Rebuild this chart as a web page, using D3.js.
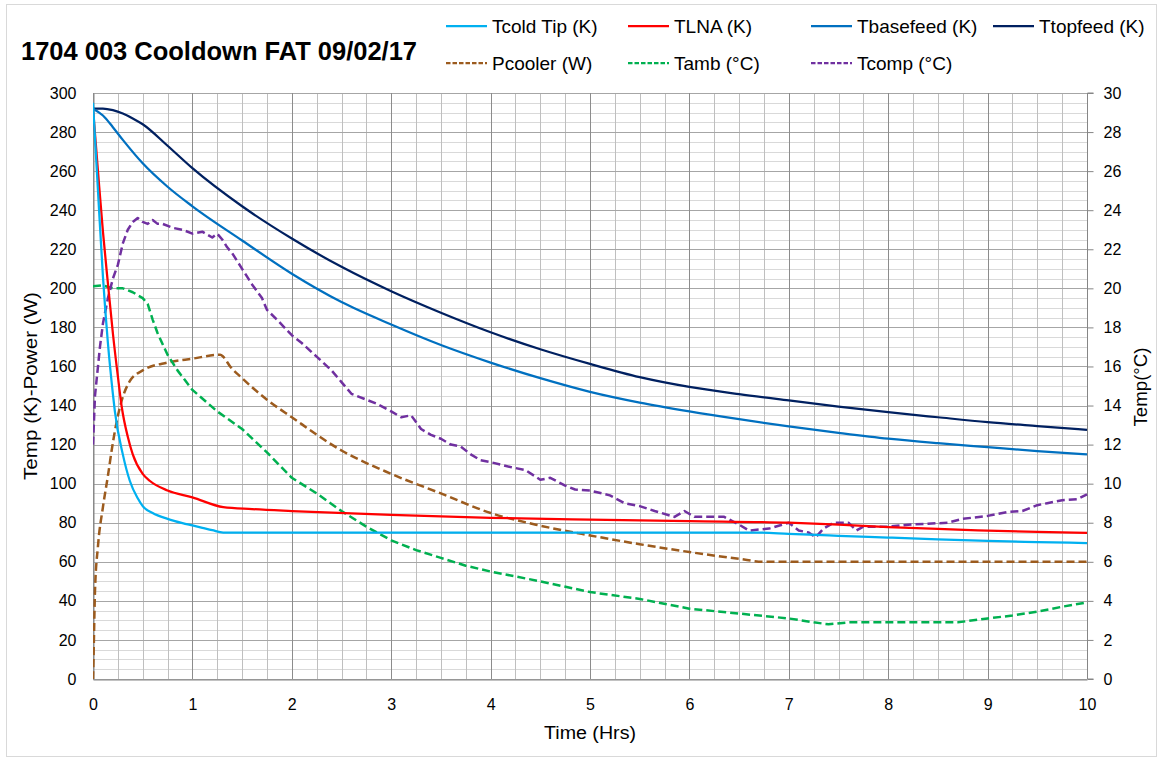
<!DOCTYPE html>
<html>
<head>
<meta charset="utf-8">
<script src="https://cdn.jsdelivr.net/npm/d3@7"></script>
<style>
  body { margin: 0; background: #fff; }
  svg { display: block; font-family: "Liberation Sans", Arial, sans-serif; }
</style>
</head>
<body>
<svg id="chart" width="1158" height="758"></svg>
<script>
// ---------- DATA ----------
const chartTitle = "1704 003 Cooldown FAT 09/02/17";
const xTickLabels = [0, 1, 2, 3, 4, 5, 6, 7, 8, 9, 10];
const leftTicks = [0, 20, 40, 60, 80, 100, 120, 140, 160, 180, 200, 220, 240, 260, 280, 300];
const rightTicks = [0, 2, 4, 6, 8, 10, 12, 14, 16, 18, 20, 22, 24, 26, 28, 30];

const seriesNames = ["Tcold Tip (K)", "TLNA (K)", "Tbasefeed (K)", "Ttopfeed (K)", "Pcooler (W)", "Tamb (°C)", "Tcomp (°C)"];

const tcoldT = [0, 0.05, 0.1, 0.15, 0.2, 0.22, 0.3, 0.37, 0.45, 0.5, 0.6, 0.75, 0.9, 1.0, 1.1, 1.2, 1.31, 2, 3, 4, 5, 6, 6.7, 7, 7.5, 8, 8.5, 9, 9.5, 10];
const tcoldV = [295, 250, 206, 172, 146, 137, 115, 101.5, 92.5, 88.5, 85, 82, 79.8, 78.6, 77.4, 76.2, 75, 75, 75, 75, 75, 75, 75, 74.3, 73.3, 72.4, 71.5, 70.7, 70.1, 69.6];

const tlnaT = [0, 0.05, 0.1, 0.155, 0.2, 0.25, 0.29, 0.35, 0.4, 0.5, 0.57, 0.75, 1.0, 1.31, 1.6, 2, 3, 4, 5, 6, 7, 7.5, 8, 8.5, 9, 9.5, 10];
const tlnaV = [292, 260, 229, 200, 177, 155, 139, 124, 115, 105, 101.5, 96.5, 93, 88, 87, 86, 84, 82.5, 81.6, 80.8, 80, 79, 77.8, 76.8, 76, 75.3, 74.8];

const tbaseT = [0, 0.1, 0.2, 0.3, 0.5, 0.75, 1, 1.5, 2, 2.5, 3, 3.5, 4, 4.5, 5, 5.5, 6, 6.5, 7, 7.5, 8, 8.5, 9, 9.5, 10];
const tbaseV = [292, 288.5, 282.5, 276, 264, 252, 242, 224.5, 207.5, 193, 181.5, 171, 162, 154, 147, 141.5, 137, 133, 129.3, 126, 123, 120.7, 118.7, 116.7, 115];

const ttopT = [0, 0.1, 0.2, 0.3, 0.4, 0.5, 0.75, 1, 1.5, 2, 2.5, 3, 3.5, 4, 4.5, 5, 5.5, 6, 6.5, 7, 7.5, 8, 8.5, 9, 9.5, 10];
const ttopV = [292, 292, 291.2, 289.5, 287, 284, 273, 261.5, 242, 225.5, 211, 198.5, 187.5, 177.5, 168.8, 161.3, 154.5, 149.5, 145.8, 142.6, 139.5, 136.6, 134, 131.5, 129.5, 127.6];

const pcoolT = [0, 0.005, 0.02, 0.05, 0.1, 0.15, 0.2, 0.27, 0.37, 0.5, 0.75, 1.0, 1.28, 1.31, 1.38, 1.5, 1.75, 2, 2.5, 3, 3.5, 4, 4.5, 5, 5.5, 6, 6.5, 6.75, 7, 8, 9, 10];
const pcoolV = [0, 10, 45, 68, 88, 104, 121, 139, 152.5, 158, 162, 164, 166, 165, 160, 154, 143, 134, 117, 105, 95, 85, 78.5, 73.5, 69, 65, 61.5, 60, 60, 60, 60, 60];

const tambT = [0, 0.1, 0.2, 0.3, 0.4, 0.5, 0.55, 0.6, 0.65, 0.75, 0.85, 1.0, 1.25, 1.5, 1.75, 2.0, 2.25, 2.5, 2.75, 3.0, 3.25, 3.5, 3.75, 4.0, 4.5, 5.0, 5.5, 6.0, 6.5, 7.0, 7.25, 7.4, 7.6, 8.0, 8.5, 8.7, 9.0, 9.25, 9.5, 9.75, 10];
const tambV = [20.1, 20.15, 20.0, 20.0, 19.8, 19.5, 19.2, 18.4, 17.7, 16.6, 15.8, 14.8, 13.7, 12.8, 11.6, 10.3, 9.5, 8.6, 7.8, 7.1, 6.6, 6.2, 5.8, 5.5, 5.0, 4.45, 4.1, 3.6, 3.35, 3.1, 2.9, 2.8, 2.9, 2.9, 2.9, 2.9, 3.1, 3.25, 3.45, 3.7, 3.92];

const tcompT = [0, 0.02, 0.04, 0.07, 0.1, 0.15, 0.2, 0.25, 0.3, 0.35, 0.4, 0.45, 0.5, 0.55, 0.6, 0.65, 0.7, 0.8, 0.9, 1.0, 1.1, 1.2, 1.25, 1.3, 1.35, 1.4, 1.5, 1.6, 1.7, 1.75, 1.85, 2.0, 2.1, 2.25, 2.4, 2.5, 2.6, 2.75, 2.85, 3.0, 3.1, 3.2, 3.3, 3.4, 3.5, 3.6, 3.7, 3.8, 3.9, 4.0, 4.2, 4.35, 4.5, 4.6, 4.75, 4.85, 5.0, 5.2, 5.35, 5.5, 5.65, 5.85, 5.95, 6.05, 6.35, 6.5, 6.6, 6.8, 7.0, 7.1, 7.2, 7.27, 7.35, 7.45, 7.6, 7.68, 7.75, 8.0, 8.2, 8.4, 8.6, 8.75, 9.0, 9.2, 9.35, 9.5, 9.6, 9.75, 9.9, 10.0];
const tcompV = [12.0, 14.5, 15.5, 17.0, 18.2, 19.5, 20.5, 21.2, 22.3, 23.0, 23.4, 23.6, 23.4, 23.3, 23.5, 23.3, 23.3, 23.1, 23.0, 22.8, 22.9, 22.6, 22.8, 22.5, 22.1, 21.8, 21.0, 20.2, 19.5, 18.9, 18.4, 17.6, 17.2, 16.5, 15.8, 15.2, 14.6, 14.3, 14.1, 13.7, 13.4, 13.5, 12.8, 12.5, 12.3, 12.0, 11.9, 11.5, 11.2, 11.1, 10.85, 10.7, 10.2, 10.3, 9.9, 9.7, 9.65, 9.4, 9.0, 8.85, 8.6, 8.3, 8.6, 8.3, 8.3, 7.9, 7.6, 7.7, 8.0, 7.6, 7.5, 7.25, 7.7, 8.0, 8.0, 7.6, 7.8, 7.8, 7.9, 7.95, 8.0, 8.2, 8.35, 8.55, 8.6, 8.9, 9.0, 9.15, 9.2, 9.45];

// ---------- LAYOUT ----------
const svg = d3.select("#chart");
const X0 = 93, X1 = 1087, Y0 = 679, Y1 = 93;

const x = d3.scaleLinear().domain([0, 10]).range([X0, X1]);
const yL = d3.scaleLinear().domain([0, 300]).range([Y0, Y1]);
const yR = d3.scaleLinear().domain([0, 30]).range([Y0, Y1]);

// outer border
svg.append("rect").attr("x", 6.5).attr("y", 4.5).attr("width", 1150).attr("height", 752)
  .attr("fill", "#fff").attr("stroke", "#D9D9D9").attr("stroke-width", 1);

// title
svg.append("text").attr("x", 21).attr("y", 60)
  .attr("font-size", 25).attr("font-weight", "bold").attr("fill", "#000")
  .attr("textLength", 396).attr("lengthAdjust", "spacingAndGlyphs")
  .text(chartTitle);

// gridlines
const grid = svg.append("g");
const minorX = d3.range(0, 10.001, 0.25).filter(v => Math.abs(v - Math.round(v)) > 1e-6);
const majorX = d3.range(0, 11, 1);
const minorY = d3.range(0, 301, 5).filter(v => v % 20 !== 0);
const majorY = d3.range(0, 301, 20);

grid.selectAll(".hmin").data(minorY).join("line")
  .attr("x1", X0).attr("x2", X1)
  .attr("y1", d => Math.round(yL(d)) + 0.5).attr("y2", d => Math.round(yL(d)) + 0.5)
  .attr("stroke", "#D9D9D9").attr("stroke-width", 1);
grid.selectAll(".vmin").data(minorX).join("line")
  .attr("y1", Y1).attr("y2", Y0)
  .attr("x1", d => Math.round(x(d)) + 0.5).attr("x2", d => Math.round(x(d)) + 0.5)
  .attr("stroke", "#BFBFBF").attr("stroke-width", 1);
grid.selectAll(".hmaj").data(majorY).join("line")
  .attr("x1", X0).attr("x2", X1)
  .attr("y1", d => Math.round(yL(d)) + 0.5).attr("y2", d => Math.round(yL(d)) + 0.5)
  .attr("stroke", "#A6A6A6").attr("stroke-width", 1);
grid.selectAll(".vmaj").data(majorX).join("line")
  .attr("y1", Y1).attr("y2", Y0)
  .attr("x1", d => Math.round(x(d)) + 0.5).attr("x2", d => Math.round(x(d)) + 0.5)
  .attr("stroke", "#8C8C8C").attr("stroke-width", 1);

// axes
const axisColor = "#868686";
const gL = svg.append("g").attr("transform", `translate(${X0 + 0.5},0)`)
  .call(d3.axisLeft(yL).tickValues(leftTicks).tickSize(0).tickPadding(17));
const gR = svg.append("g").attr("transform", `translate(${X1 + 0.5},0)`)
  .call(d3.axisRight(yR).tickValues(rightTicks).tickSize(6).tickPadding(10));
const gB = svg.append("g").attr("transform", `translate(0,${Y0 + 0.5})`)
  .call(d3.axisBottom(x).tickValues(xTickLabels).tickSize(0).tickPadding(19));
[gL, gR, gB].forEach(g => {
  g.select(".domain").attr("stroke", axisColor);
  g.selectAll(".tick line").attr("stroke", axisColor);
  g.selectAll("text").attr("font-size", 16).attr("fill", "#000")
    .attr("font-family", '"Liberation Sans", Arial, sans-serif');
});
gR.select(".domain").attr("d", `M6,${Y1}H0V${Y0}H6`);

// axis titles
svg.append("text").attr("x", 590).attr("y", 739).attr("text-anchor", "middle")
  .attr("font-size", 18).attr("textLength", 92).attr("lengthAdjust", "spacingAndGlyphs")
  .text("Time (Hrs)");
svg.append("text").attr("transform", `translate(37,386) rotate(-90)`).attr("text-anchor", "middle")
  .attr("font-size", 19).attr("textLength", 188).attr("lengthAdjust", "spacingAndGlyphs")
  .text("Temp (K)-Power (W)");
svg.append("text").attr("transform", `translate(1147,387) rotate(-90)`).attr("text-anchor", "middle")
  .attr("font-size", 18).attr("textLength", 79).attr("lengthAdjust", "spacingAndGlyphs")
  .text("Temp(°C)");

// series lines
svg.append("clipPath").attr("id", "plotclip").append("rect")
  .attr("x", X0).attr("y", Y1 - 4).attr("width", X1 - X0 + 2).attr("height", Y0 - Y1 + 5);
const plot = svg.append("g").attr("clip-path", "url(#plotclip)");

const series = [
  { name: seriesNames[4], t: pcoolT, v: pcoolV, y: yL, color: "#9C5B1E", dash: "8,4", curve: d3.curveMonotoneX },
  { name: seriesNames[5], t: tambT, v: tambV, y: yR, color: "#00B050", dash: "8,4", curve: d3.curveLinear },
  { name: seriesNames[6], t: tcompT, v: tcompV, y: yR, color: "#7030A0", dash: "8,4", curve: d3.curveLinear },
  { name: seriesNames[3], t: ttopT, v: ttopV, y: yL, color: "#002060", dash: null, curve: d3.curveMonotoneX },
  { name: seriesNames[2], t: tbaseT, v: tbaseV, y: yL, color: "#0070C0", dash: null, curve: d3.curveMonotoneX },
  { name: seriesNames[1], t: tlnaT, v: tlnaV, y: yL, color: "#FF0000", dash: null, curve: d3.curveMonotoneX },
  { name: seriesNames[0], t: tcoldT, v: tcoldV, y: yL, color: "#00B0F0", dash: null, curve: d3.curveMonotoneX }
];

series.forEach(s => {
  const pts = s.t.map((t, i) => [t, s.v[i]]);
  const line = d3.line().x(d => x(d[0])).y(d => s.y(d[1])).curve(s.curve);
  plot.append("path").datum(pts)
    .attr("d", line)
    .attr("fill", "none")
    .attr("stroke", s.color)
    .attr("stroke-width", s.dash ? 2.5 : 2.25)
    .attr("stroke-linejoin", "round")
    .attr("stroke-dasharray", s.dash);
});

// legend
const legendItems = [
  { name: seriesNames[0], color: "#00B0F0", dash: null, lx: 446, ly: 26 },
  { name: seriesNames[1], color: "#FF0000", dash: null, lx: 628, ly: 26 },
  { name: seriesNames[2], color: "#0070C0", dash: null, lx: 811, ly: 26 },
  { name: seriesNames[3], color: "#002060", dash: null, lx: 993, ly: 26 },
  { name: seriesNames[4], color: "#9C5B1E", dash: "4.5,2", lx: 446, ly: 63 },
  { name: seriesNames[5], color: "#00B050", dash: "4.5,2", lx: 628, ly: 63 },
  { name: seriesNames[6], color: "#7030A0", dash: "4.5,2", lx: 811, ly: 63 }
];
const lg = svg.append("g");
legendItems.forEach(it => {
  lg.append("line").attr("x1", it.lx).attr("x2", it.lx + 41).attr("y1", it.ly).attr("y2", it.ly)
    .attr("stroke", it.color).attr("stroke-width", 2.25).attr("stroke-dasharray", it.dash);
  lg.append("text").attr("x", it.lx + 46).attr("y", it.ly + 6.5)
    .attr("font-size", 19).attr("fill", "#000").text(it.name);
});
</script>
</body>
</html>
